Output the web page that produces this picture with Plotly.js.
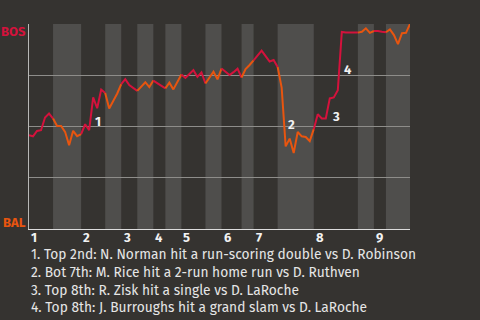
<!DOCTYPE html>
<html>
<head>
<meta charset="utf-8">
<script src="https://cdn.plot.ly/plotly-3.0.1.min.js"></script>
<style>
  html, body { margin: 0; padding: 0; background: #353330; }
  #chart { width: 480px; height: 320px; }
</style>
</head>
<body>
<div id="chart"></div>
<script>
// Boston win probability after each plate appearance (0 = Baltimore wins, 1 = Boston wins)
const winProb = [
  0.457, 0.452, 0.478, 0.482, 0.544, 0.563, 0.539,          // top 1
  0.503, 0.503, 0.474, 0.409, 0.479, 0.453, 0.463,          // bot 1
  0.511, 0.482, 0.642, 0.589, 0.680, 0.663,                 // top 2
  0.588, 0.624, 0.661, 0.707,                               // bot 2
  0.731, 0.702, 0.690, 0.674,                               // top 3
  0.694, 0.716, 0.692, 0.724,                               // bot 3
  0.712, 0.700, 0.686,                                      // top 4
  0.714, 0.681, 0.716, 0.754,                               // bot 4
  0.737, 0.756, 0.775, 0.742, 0.764, 0.710,                 // top 5
  0.742, 0.767, 0.730, 0.783,                               // bot 5
  0.767, 0.751, 0.765, 0.782, 0.739,                        // top 6
  0.780, 0.800, 0.823,                                      // bot 6
  0.846, 0.870, 0.843, 0.817, 0.824, 0.790,                 // top 7
  0.690, 0.403, 0.441, 0.371, 0.473, 0.452, 0.449, 0.429, 0.487, // bot 7
  0.560, 0.539, 0.539, 0.637, 0.642, 0.677, 0.961, 0.958, 0.958, 0.958, 0.958, // top 8
  0.962, 0.979, 0.957, 0.966,                               // bot 8
  0.966, 0.962, 0.960,                                      // top 9
  0.974, 0.946, 0.902, 0.955, 0.957, 1.000                  // bot 9
];

// Index of the last plate appearance of each half inning (top 1, bot 1, top 2, ...)
const halfInningEnds = [6, 13, 19, 23, 27, 31, 34, 38, 44, 48, 53, 56, 62, 71, 82, 86, 89, 95];

// Inning numbers shown along the bottom
const inningLabels = ['1', '2', '3', '4', '5', '6', '7', '8', '9'];

// Key plays: index of the plate appearance and its description
const keyPlayIndex = [16, 64, 75, 78];
const keyPlayText = [
  'Top 2nd: N. Norman hit a run-scoring double vs D. Robinson',
  'Bot 7th: M. Rice hit a 2-run home run vs D. Ruthven',
  'Top 8th: R. Zisk hit a single vs D. LaRoche',
  'Top 8th: J. Burroughs hit a grand slam vs D. LaRoche'
];

const awayTeam = 'BOS';
const homeTeam = 'BAL';

const RED = '#d4123c';
const ORANGE = '#e8550f';
const BG = '#353330';
const BAND = '#4f4e4c';
const FONT = 'Fira Sans, Roboto, Noto Sans, sans-serif';

const halfStarts = halfInningEnds.map((e, i) => (i === 0 ? 0 : halfInningEnds[i - 1]));

// One line trace per half inning: red while Boston bats, orange while Baltimore bats
const traces = halfInningEnds.map((end, i) => {
  const start = halfStarts[i];
  const xs = [], ys = [];
  for (let k = start; k <= end; k++) { xs.push(k); ys.push(winProb[k]); }
  return {
    type: 'scatter', mode: 'lines', x: xs, y: ys,
    line: { color: i % 2 === 0 ? RED : ORANGE, width: 2 },
    hoverinfo: 'skip', showlegend: false
  };
});

// Lighter bands behind the bottom halves
const shapes = [];
halfInningEnds.forEach((end, i) => {
  if (i % 2 === 1) {
    shapes.push({
      type: 'rect', layer: 'below', xref: 'x', yref: 'paper',
      x0: halfStarts[i], x1: end, y0: 0, y1: 1,
      fillcolor: BAND, line: { width: 0 }
    });
  }
});

const annotations = [];

// Inning numbers at the start of each inning
inningLabels.forEach((lab, i) => {
  annotations.push({
    text: lab, xref: 'x', yref: 'paper', x: halfStarts[i * 2], y: 0,
    xanchor: 'left', yanchor: 'top', yshift: 1, showarrow: false,
    font: { family: FONT, size: 13, color: '#f2f2f2', weight: 'bold' }
  });
});

// Team names at the ends of the probability scale
annotations.push({
  text: awayTeam, xref: 'paper', yref: 'paper', x: 0, y: 1,
  xanchor: 'right', yanchor: 'top', xshift: -1, yshift: 2, showarrow: false,
  font: { family: FONT, size: 13, color: RED, weight: 'bold' }
});
annotations.push({
  text: homeTeam, xref: 'paper', yref: 'paper', x: 0, y: 0,
  xanchor: 'right', yanchor: 'bottom', xshift: -1, yshift: -3, showarrow: false,
  font: { family: FONT, size: 13, color: ORANGE, weight: 'bold' }
});

// Numbered markers beside each key play, halfway up the swing it caused
keyPlayIndex.forEach((idx, i) => {
  annotations.push({
    text: String(i + 1), xref: 'x', yref: 'y', x: idx,
    y: (winProb[idx] + winProb[idx - 1]) / 2,
    xanchor: 'left', yanchor: 'middle', yshift: -8, showarrow: false,
    font: { family: FONT, size: 13, color: '#f2f2f2', weight: 'bold' }
  });
  // Caption line under the chart
  annotations.push({
    text: (i + 1) + '. ' + keyPlayText[i], xref: 'paper', yref: 'paper', x: 0, y: 0,
    xanchor: 'left', yanchor: 'middle', xshift: 0, yshift: -25.5 - i * 17.8,
    showarrow: false, align: 'left',
    font: { family: FONT, size: 13.75, color: '#e6e6e6' }
  });
});

const layout = {
  width: 480, height: 320,
  margin: { l: 29, r: 70, t: 24, b: 91, pad: 0 },
  paper_bgcolor: BG, plot_bgcolor: BG,
  showlegend: false,
  xaxis: {
    range: [0, halfInningEnds[halfInningEnds.length - 1]],
    showgrid: false, zeroline: false, showticklabels: false, ticks: '',
    showline: true, linecolor: '#dcdcdc', linewidth: 1, fixedrange: true
  },
  yaxis: {
    range: [0, 1], tickvals: [0, 0.25, 0.5, 0.75, 1],
    showgrid: true, gridcolor: '#8e8d8a', gridwidth: 1,
    zeroline: false, showticklabels: false, ticks: '',
    showline: true, linecolor: '#b8b8b6', linewidth: 1, fixedrange: true
  },
  shapes: shapes,
  annotations: annotations
};

Plotly.newPlot('chart', traces, layout, { displayModeBar: false, staticPlot: true });
</script>
</body>
</html>
